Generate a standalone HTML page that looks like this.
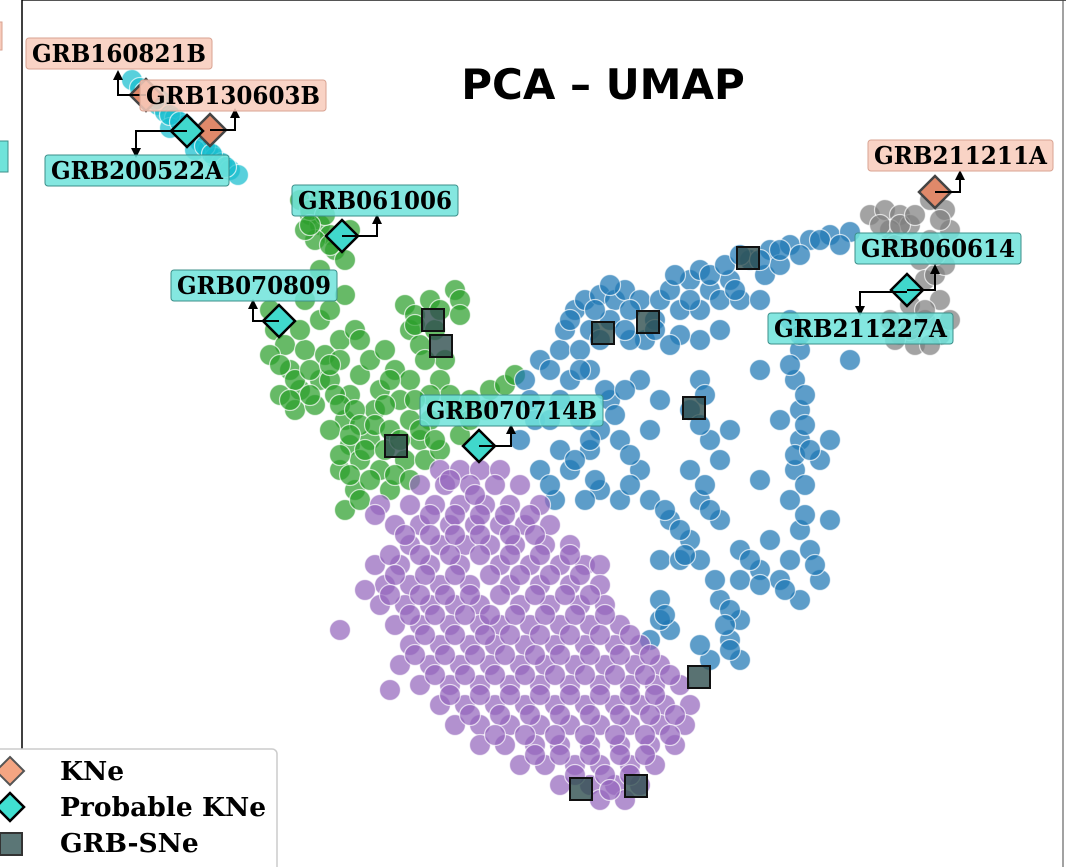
<!DOCTYPE html>
<html><head><meta charset="utf-8"><style>
html,body{margin:0;padding:0;background:#fff;}
svg{display:block;}
.lbl{font-family:"DejaVu Serif","Liberation Serif",serif;font-weight:bold;font-size:24px;fill:#000;}
.leg{font-family:"DejaVu Serif","Liberation Serif",serif;font-weight:bold;font-size:26.5px;fill:#000;}
</style></head><body>
<svg id="chart" width="1066" height="867" viewBox="0 0 1066 867" xmlns="http://www.w3.org/2000/svg">
<rect x="0" y="0" width="1066" height="867" fill="#fff"/>
<line x1="22" y1="0" x2="1066" y2="0" stroke="#555" stroke-width="2"/>
<line x1="22" y1="0" x2="22" y2="867" stroke="#000" stroke-width="1.5"/>
<line x1="1063" y1="0" x2="1063" y2="867" stroke="#444" stroke-width="1"/>
<g id="points"></g>
<g id="markers"></g>
<g id="labels"></g>
<text x="603" y="99" text-anchor="middle" font-family="DejaVu Sans, Liberation Sans, sans-serif" font-weight="bold" font-size="42" fill="#000">PCA – UMAP</text>
<g>
<rect x="-6" y="749" width="283" height="130" rx="5" fill="#fff" stroke="#ccc" stroke-width="1.5"/>
<polygon points="10,757 24,771 10,785 -4,771" fill="#f4a582" stroke="#555" stroke-width="2"/>
<text class="leg" x="60" y="780">KNe</text>
<polygon points="10,793 24,807 10,821 -4,807" fill="#40e0d0" stroke="#000" stroke-width="2.5"/>
<text class="leg" x="60" y="816">Probable KNe</text>
<rect x="0" y="833" width="22" height="22" fill="#5b7676" stroke="#333" stroke-width="2"/>
<text class="leg" x="60" y="852">GRB-SNe</text>
</g>
</svg>
<script>
// UMAP embedding coordinates (arbitrary units)
const purple = "44,47 46,47 48,47 50,47 42,48.5 44.5,48.5 47,48.5 49.5,48.5 52,48.5 38,50.5 41,50.5 43.5,50.5 46,50.5 48.5,50.5 51,50.5 54,50.5 39.5,52.5 42,52.5 45,52.5 47.5,52.5 50,52.5 52.5,52.5 55,52.5 41,54.5 44,54.5 46.5,54.5 49,54.5 51.5,54.5 54.5,54.5 57,54.5 37.5,56.5 40,56.5 43,56.5 46,56.5 50,56.5 53,56.5 56,56.5 58.5,56.5 60,56.5 38.5,58.5 41,58.5 44,58.5 47,58.5 51,58.5 54,58.5 57,58.5 60,58.5 38,60.5 40.5,60.5 43,60.5 45.5,60.5 48,60.5 52,60.5 55,60.5 58,60.5 60.5,60.5 39.5,62.5 42,62.5 45,62.5 48,62.5 50,62.5 53,62.5 56,62.5 59,62.5 62,62.5 41,64.5 44,64.5 47,64.5 49.5,64.5 52.5,64.5 55.5,64.5 58.5,64.5 61.5,64.5 64,64.5 40,66.5 43,66.5 46,66.5 49,66.5 52,66.5 54.5,66.5 57.5,66.5 60.5,66.5 63.5,66.5 66,66.5 42,68.5 45,68.5 48,68.5 51,68.5 54,68.5 57,68.5 60,68.5 63,68.5 65.5,68.5 68,68.5 44,70.5 46.5,70.5 49.5,70.5 52.5,70.5 55.5,70.5 58.5,70.5 61.5,70.5 64,70.5 66.5,70.5 69,70.5 45.5,72.5 48,72.5 51,72.5 54,72.5 57,72.5 60,72.5 63,72.5 66,72.5 68.5,72.5 48,74.5 50.5,74.5 53.5,74.5 56,74.5 59,74.5 62,74.5 65,74.5 67.5,74.5 52,76.5 54.5,76.5 57.5,76.5 60,76.5 63,76.5 65.5,76.5 56,78.5 59,78.5 61.5,78.5 64,78.5 60,80 62.5,80 37.5,51.5 36.5,59 39,69 34,63";
const purple2 = "45,48 47.5,49.5 43,51.5 45.5,51.5 48,51.5 50.5,51.5 53,51.5 40.5,53.5 43,53.5 45.5,53.5 48,53.5 51,53.5 53.5,53.5 39,55.5 42,55.5 45,55.5 48,55.5 51,55.5 54,55.5 57,55.5 39.5,57.5 42.5,57.5 45.5,57.5 49,57.5 52,57.5 55,57.5 58,57.5 39,59.5 42,59.5 44.5,59.5 47,59.5 50,59.5 53.5,59.5 56.5,59.5 59,59.5 41,61.5 43.5,61.5 46.5,61.5 49,61.5 51.5,61.5 54.5,61.5 57.5,61.5 60.5,61.5 42.5,63.5 45.5,63.5 48.5,63.5 51,63.5 54,63.5 57,63.5 60,63.5 63,63.5 41.5,65.5 44.5,65.5 47.5,65.5 50.5,65.5 53.5,65.5 56,65.5 59,65.5 62,65.5 65,65.5 43.5,67.5 46.5,67.5 49.5,67.5 52.5,67.5 55.5,67.5 58.5,67.5 61.5,67.5 64.5,67.5 67,67.5 45,69.5 48,69.5 51,69.5 54,69.5 57,69.5 60,69.5 63,69.5 65.5,69.5 47,71.5 50,71.5 53,71.5 56,71.5 59,71.5 62,71.5 65,71.5 67.5,71.5 49.5,73.5 52.5,73.5 55.5,73.5 58.5,73.5 61.5,73.5 64.5,73.5 67,73.5 53.5,75.5 56,75.5 59,75.5 62,75.5 64.5,75.5 57.5,77.5 60.5,77.5 63,77.5 61,79";
const blue = "52,44 53.5,42 52.5,38 54,36 56,35 56.5,33 57.5,31 58.5,30 60,29.5 61.5,30 62.5,29 64,30 61,32 59,33 58,35 57,38 56,40 55,42 66,30 67,29 68,31 69,28 70,27 71,29 72,30 73,28 74,30 70,31 75,26 77,25 79,24.5 81,24 83,23.5 85,23.2 76.5,27.5 78,26.5 76,30 72,33 70,34 68,33.5 65.5,32 64.5,34 63,34 79,32 80,35 79.5,38 80,41 80,44 79.5,47 79,50 80,53 81,55 82,58 80,60 78,58 76,57 74,58 77,54 74,55 83,44 85,36 82,46 83,52 79,56 70,38 69,41 71,44 69,47 70,50 72,46 73,43 72,52 66,40 65,43 62,44 64,47 62,50 65,50 67,52 69,54 66,56 70,56 72,60 74,62 73,64 71,66 68,56 66,60 67,63 66,62 65,64 60,43 59,45 60,49 58,42 61,40 64,38 56,45 57,47 58.5,50 54,47 55.5,50 59,37 60.5,39 76,37 78,42 76,48 74,66";
const blue2 = "53,40 55,37 57,32 59.5,31 61,28.5 63,31 60,34 58,37 62.5,33 67.5,27.5 69,30 71,27.5 73.5,29 72.5,26.5 74,25.5 76,26 78,25 80,25.5 82,24 84,24.5 80,33.5 79,36.5 80.5,39.5 80.5,42.5 79.5,45.5 80.5,48.5 80.5,51.5 81.5,56.5 78.5,59 75,56 76,58.5 81,45 70.5,39.5 70,42.5 70.5,48.5 71,51 63,45.5 63,48.5 66.5,51 68,53 68.5,55.5 71.5,58 73,61 72.5,62.5 70,64.5 73,65 66.5,61.5 59,44 61.5,41.5 62.5,39 57.5,46 59.5,48 55,48.5 65.5,33 67,34.5";
const green = "30,20 31,21.5 32,22.5 33,23.5 31.5,24 33.5,25 34.5,26 32,20 30.5,23 35,23 27,31 27.5,33 28.5,34.5 27,35.5 29,37 30,39 28,39.5 29.5,41 31.5,40.5 32,38 30.5,35 32.5,35.5 34,34 35.5,33 34,36 33,38 35,39.5 36,37.5 34.5,42 33,43 35,44.5 34,47 36,46 35.5,49 34.5,51 37,44 37.5,41 38,39 37,36 38.5,35 39.5,37 40,40 41,42 42,44 40.5,46 38,47 39,49 42.5,46 44,45 43,42 41,33 40.5,30.5 41.5,31.5 43,30 45.5,29 46,30 42,34.5 44.5,36 44,38 45.5,41 47,40 49,39 50.5,38.5 51.5,37.5 41,38 30,33 30.5,30 32,32 32,27 34.5,29.5 33,31 36,34";
const green2 = "31,21 32.5,21.5 33,24.5 31,22.5 28,32 28,36.5 29.5,38 31,37 31,39.5 29,40 33,36.5 33.5,39.5 34,40.5 35.5,41 36,42.5 35,43.5 36.5,45 35,47.5 34,45.5 37.5,42.5 38.5,40.5 39,43 38.5,45 37,48 36,50 39.5,47.5 40,44 41,48 42,43 43.5,44 46,43.5 47,42 48.5,41 45,39.5 43,39.5 41.5,40 39,38 42.5,36 41.5,32.5 43.5,33 44,31 46,31.5";
const grey = "87,21.5 88.5,21 90,21.5 91,22.5 89,23 89.5,24.5 93,20 94.5,21 95,23 93,24 92,26 92.5,28 90.5,29 93.5,27.5 94.5,26.5 91,30.5 92.5,32 94,33.5 90,33.5 91.5,34.5 94,30 95,32 89,32";
const grey2 = "88,22.5 90,22.5 91.5,21.5 94,22 93.5,25.5 92.5,31 91,33 93,34.5 89.5,34";
const cyan = "13.2,8 14,8.8 15,9.6 15.8,10.5 16.5,11.2 17.5,11.8 18.5,12.5 19.2,13.5 20,14.2 20.8,15 21.5,15.8 22.2,16.3 23,17 23.8,17.5 17,12.8 19.5,15 16,10";
const cyan2 = "14.5,9.2 15.5,10 17,11.5 18,12.2 19,13 20.5,14.6 21.2,15.4 22.6,16.7";
const sneX = [43.3, 44.1, 39.6, 60.3, 64.8, 74.8, 69.4, 69.9, 58.1, 63.6];
const sneY = [32.0, 34.6, 44.6, 33.3, 32.2, 25.8, 40.8, 67.7, 78.9, 78.6];
const kneNames = ["GRB130603B", "GRB160821B", "GRB211211A"];
const kneX = [14.6, 21.0, 93.5];
const kneY = [9.5, 13.0, 19.2];
const pkNames = ["GRB200522A", "GRB061006", "GRB070809", "GRB070714B", "GRB060614"];
const pkX = [18.7, 34.2, 27.9, 47.9, 90.7];
const pkY = [13.1, 23.6, 32.1, 44.6, 29.0];

function xs(v){ return v*10; }
function ys(v){ return v*10; }
function parse(s){ return s.trim().split(/\s+/).map(p=>p.split(',').map(Number)); }

const NS="http://www.w3.org/2000/svg";
const pg=document.getElementById('points');
const groups=[["umap-cluster-cyan",cyan+" "+cyan2,"#17becf"],["umap-cluster-grey",grey+" "+grey2,"#7f7f7f"],["umap-cluster-green",green+" "+green2,"#2ca02c"],["umap-cluster-blue",blue+" "+blue2,"#1f77b4"],["umap-cluster-purple",purple+" "+purple2,"#9467bd"]];
groups.forEach(g=>{
  const gg=document.createElementNS(NS,'g');
  
  
  parse(g[1]).forEach(p=>{
    const c=document.createElementNS(NS,'circle');
    
    
    c.setAttribute('cx',xs(p[0]));c.setAttribute('cy',ys(p[1]));c.setAttribute('r',10.5);
    c.setAttribute('fill',g[2]);c.setAttribute('fill-opacity','0.72');
    c.setAttribute('stroke','#fff');c.setAttribute('stroke-opacity','0.7');c.setAttribute('stroke-width','1.2');
    gg.appendChild(c);
  });
  pg.appendChild(gg);
});
const mg=document.getElementById('markers');
sneX.forEach((v,i)=>{
  const r=document.createElementNS(NS,'rect');
  
  
  r.setAttribute('x',xs(v)-11);r.setAttribute('y',ys(sneY[i])-11);r.setAttribute('width',22);r.setAttribute('height',22);
  r.setAttribute('fill','#2f4f4f');r.setAttribute('fill-opacity','0.8');r.setAttribute('stroke','#111');r.setAttribute('stroke-width','2');
  mg.appendChild(r);
});
function diamond(x,y,fill,stroke,name){
  const d=document.createElementNS(NS,'polygon');
  
  
  d.setAttribute('points',`${x},${y-16} ${x+16},${y} ${x},${y+16} ${x-16},${y}`);
  d.setAttribute('fill',fill);d.setAttribute('stroke',stroke);d.setAttribute('stroke-width','2.5');
  mg.appendChild(d);
}
kneX.forEach((v,i)=>diamond(xs(v),ys(kneY[i]),'#e0896a','#444','kne-marker'));
pkX.forEach((v,i)=>diamond(xs(v),ys(pkY[i]),'#40d8cc','#000','probable-kne-marker'));

const lg=document.getElementById('labels');
const anns=[
 ["GRB160821B",26,38,186,"k","M146,95 H118 V80"],
 ["GRB130603B",140,80,186,"k","M210,130 H235 V118"],
 ["GRB200522A",45,155,184,"p","M187,131 H136 V148"],
 ["GRB061006",292,185,166,"p","M342,236 H377 V224"],
 ["GRB070809",171,270,166,"p","M279,321 H253 V309"],
 ["GRB070714B",420,395,183,"p","M479,446 H511 V434"],
 ["GRB211211A",868,140,185,"k","M935,192 H960 V180"],
 ["GRB060614",855,233,166,"p","M907,290 H935 V274"],
 ["GRB211227A",768,313,185,"p","M907,292 H860 V306"]
];
anns.forEach(a=>{
  const p=document.createElementNS(NS,'path');
  
  
  p.setAttribute('d',a[5]);p.setAttribute('fill','none');p.setAttribute('stroke','#000');p.setAttribute('stroke-width','2');
  lg.appendChild(p);
  const ex=+a[5].match(/H(\d+)/)[1], ey=+a[5].match(/V(\d+)$/)[1];
  const sy=+a[5].split(' ')[0].split(',')[1];
  const dir=ey<sy?-1:1;
  const t=document.createElementNS(NS,'polygon');
  
  
  t.setAttribute('points',`${ex-5},${ey} ${ex+5},${ey} ${ex},${ey+dir*10}`);
  t.setAttribute('fill','#000');
  lg.appendChild(t);
});
anns.forEach(a=>{
  const r=document.createElementNS(NS,'rect');
  
  
  r.setAttribute('x',a[1]);r.setAttribute('y',a[2]);r.setAttribute('width',a[3]);r.setAttribute('height',31);r.setAttribute('rx',3);
  r.setAttribute('fill',a[4]=='k'?'#f8cbbb':'#6fe3da');r.setAttribute('fill-opacity','0.85');
  r.setAttribute('stroke',a[4]=='k'?'#d9a392':'#3d8f8a');r.setAttribute('stroke-width','1');
  lg.appendChild(r);
  const t=document.createElementNS(NS,'text');
  
  
  t.setAttribute('class','lbl');t.setAttribute('x',a[1]+a[3]/2);t.setAttribute('y',a[2]+24);t.setAttribute('text-anchor','middle');
  t.setAttribute('textLength',a[3]-12);t.setAttribute('lengthAdjust','spacingAndGlyphs');
  t.textContent=a[0];
  lg.appendChild(t);
});
const e1=document.createElementNS(NS,'rect');


e1.setAttribute('x',-10);e1.setAttribute('y',22);e1.setAttribute('width',12);e1.setAttribute('height',28);e1.setAttribute('fill','#f8cbbb');e1.setAttribute('stroke','#d9a392');
lg.appendChild(e1);
const e2=document.createElementNS(NS,'rect');


e2.setAttribute('x',-10);e2.setAttribute('y',141);e2.setAttribute('width',18);e2.setAttribute('height',31);e2.setAttribute('fill','#6fe3da');e2.setAttribute('stroke','#3d8f8a');
lg.appendChild(e2);
</script>
</body></html>
